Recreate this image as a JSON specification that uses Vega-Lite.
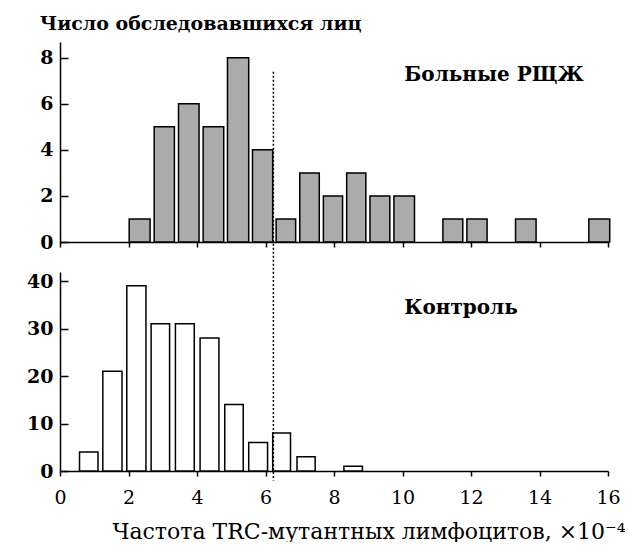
{
  "$schema": "https://vega.github.io/schema/vega-lite/v6.json",
  "autosize": {"type": "pad"},
  "padding": {"left": 26, "top": 15, "right": 0, "bottom": 0},
  "background": "white",
  "bounds": "flush",
  "spacing": 30,
  "config": {
    "view": {"stroke": null},
    "font": "DejaVu Serif",
    "axis": {
      "grid": false,
      "domainColor": "black",
      "domainWidth": 1.5,
      "tickColor": "black",
      "tickWidth": 1.5,
      "labelColor": "black",
      "labelFont": "DejaVu Serif",
      "labelFontWeight": "bold",
      "labelFontSize": 19,
      "titleColor": "black"
    }
  },
  "datasets": {
    "patients": [
      {"x0": 2.02, "x1": 2.63, "n": 1},
      {"x0": 2.75, "x1": 3.34, "n": 5},
      {"x0": 3.46, "x1": 4.06, "n": 6},
      {"x0": 4.18, "x1": 4.78, "n": 5},
      {"x0": 4.89, "x1": 5.51, "n": 8},
      {"x0": 5.62, "x1": 6.21, "n": 4},
      {"x0": 6.31, "x1": 6.88, "n": 1},
      {"x0": 7.0, "x1": 7.57, "n": 3},
      {"x0": 7.69, "x1": 8.25, "n": 2},
      {"x0": 8.37, "x1": 8.93, "n": 3},
      {"x0": 9.05, "x1": 9.63, "n": 2},
      {"x0": 9.75, "x1": 10.35, "n": 2},
      {"x0": 11.18, "x1": 11.76, "n": 1},
      {"x0": 11.88, "x1": 12.47, "n": 1},
      {"x0": 13.3, "x1": 13.9, "n": 1},
      {"x0": 15.44, "x1": 16.05, "n": 1}
    ],
    "control": [
      {"x0": 0.57, "x1": 1.11, "n": 4},
      {"x0": 1.25, "x1": 1.81, "n": 21},
      {"x0": 1.95, "x1": 2.51, "n": 39},
      {"x0": 2.66, "x1": 3.2, "n": 31},
      {"x0": 3.37, "x1": 3.92, "n": 31},
      {"x0": 4.09, "x1": 4.64, "n": 28},
      {"x0": 4.81, "x1": 5.35, "n": 14},
      {"x0": 5.51, "x1": 6.06, "n": 6},
      {"x0": 6.21, "x1": 6.73, "n": 8},
      {"x0": 6.92, "x1": 7.45, "n": 3},
      {"x0": 8.29, "x1": 8.83, "n": 1}
    ],
    "labels_top": [{"x": 10.05, "y": 7.25, "t": "Больные РЩЖ"}],
    "labels_bottom": [{"x": 10.05, "y": 34.3, "t": "Контроль"}],
    "cut_top": [{"x": 6.23, "y": 7.39, "y2": -1.3}],
    "cut_bottom": [{"x": 6.23, "y": 41.9, "y2": -2}]
  },
  "vconcat": [
    {
      "width": 548,
      "height": 200,
      "title": {
        "text": "Число обследовавшихся лиц",
        "anchor": "start",
        "font": "DejaVu Serif",
        "fontSize": 19,
        "fontWeight": "bold",
        "color": "black",
        "dx": 0,
        "offset": 8
      },
      "layer": [
        {
          "data": {"name": "patients"},
          "mark": {"type": "bar", "fill": "#ababab", "stroke": "black", "strokeWidth": 1.5},
          "encoding": {
            "x": {"field": "x0", "type": "quantitative",
              "scale": {"domain": [0, 16], "nice": false, "zero": false, "padding": 0},
              "axis": {"values": [0, 2, 4, 6, 8, 10, 12, 14, 16], "labels": false, "tickSize": 5, "title": null}},
            "x2": {"field": "x1"},
            "y": {"field": "n", "type": "quantitative",
              "scale": {"domain": [0, 8.68], "nice": false, "padding": 0},
              "axis": {"values": [0, 1, 2, 3, 4, 5, 6, 7, 8], "tickSize": -8, "labelPadding": 15,
                "labelExpr": "datum.value % 2 ? '' : datum.label", "title": null}},
            "y2": {"datum": 0}
          }
        },
        {
          "data": {"name": "cut_top"},
          "mark": {"type": "rule", "color": "black", "strokeWidth": 1.5, "strokeDash": [2, 2]},
          "encoding": {
            "x": {"field": "x", "type": "quantitative"},
            "y": {"field": "y", "type": "quantitative"},
            "y2": {"field": "y2"}
          }
        },
        {
          "data": {"name": "labels_top"},
          "mark": {"type": "text", "align": "left", "baseline": "middle", "font": "DejaVu Serif", "fontSize": 20, "fontWeight": "bold", "color": "black"},
          "encoding": {
            "x": {"field": "x", "type": "quantitative"},
            "y": {"field": "y", "type": "quantitative"},
            "text": {"field": "t"}
          }
        }
      ]
    },
    {
      "width": 548,
      "height": 199,
      "layer": [
        {
          "data": {"name": "control"},
          "mark": {"type": "bar", "fill": "white", "stroke": "black", "strokeWidth": 1.5},
          "encoding": {
            "x": {"field": "x0", "type": "quantitative",
              "scale": {"domain": [0, 16], "nice": false, "zero": false, "padding": 0},
              "axis": {"values": [0, 2, 4, 6, 8, 10, 12, 14, 16], "tickSize": 5, "labelPadding": 12,
                "labelFlush": false, "labelFontWeight": "normal", "labelFontSize": 19,
                "title": "Частота TRC-мутантных лимфоцитов, ×10⁻⁴",
                "titleFont": "DejaVu Serif", "titleFontSize": 22, "titleFontWeight": "normal",
                "titleAlign": "right", "titleAnchor": "end", "titleX": 565, "titleY": 67, "titleBaseline": "alphabetic"}},
            "x2": {"field": "x1"},
            "y": {"field": "n", "type": "quantitative",
              "scale": {"domain": [0, 41.9], "nice": false, "padding": 0},
              "axis": {"values": [0, 5, 10, 15, 20, 25, 30, 35, 40], "tickSize": -8, "labelPadding": 15,
                "labelExpr": "datum.value % 10 ? '' : datum.label", "title": null}},
            "y2": {"datum": 0}
          }
        },
        {
          "data": {"name": "cut_bottom"},
          "mark": {"type": "rule", "color": "black", "strokeWidth": 1.5, "strokeDash": [2, 2]},
          "encoding": {
            "x": {"field": "x", "type": "quantitative"},
            "y": {"field": "y", "type": "quantitative"},
            "y2": {"field": "y2"}
          }
        },
        {
          "data": {"name": "labels_bottom"},
          "mark": {"type": "text", "align": "left", "baseline": "middle", "font": "DejaVu Serif", "fontSize": 20, "fontWeight": "bold", "color": "black"},
          "encoding": {
            "x": {"field": "x", "type": "quantitative"},
            "y": {"field": "y", "type": "quantitative"},
            "text": {"field": "t"}
          }
        }
      ]
    }
  ]
}
